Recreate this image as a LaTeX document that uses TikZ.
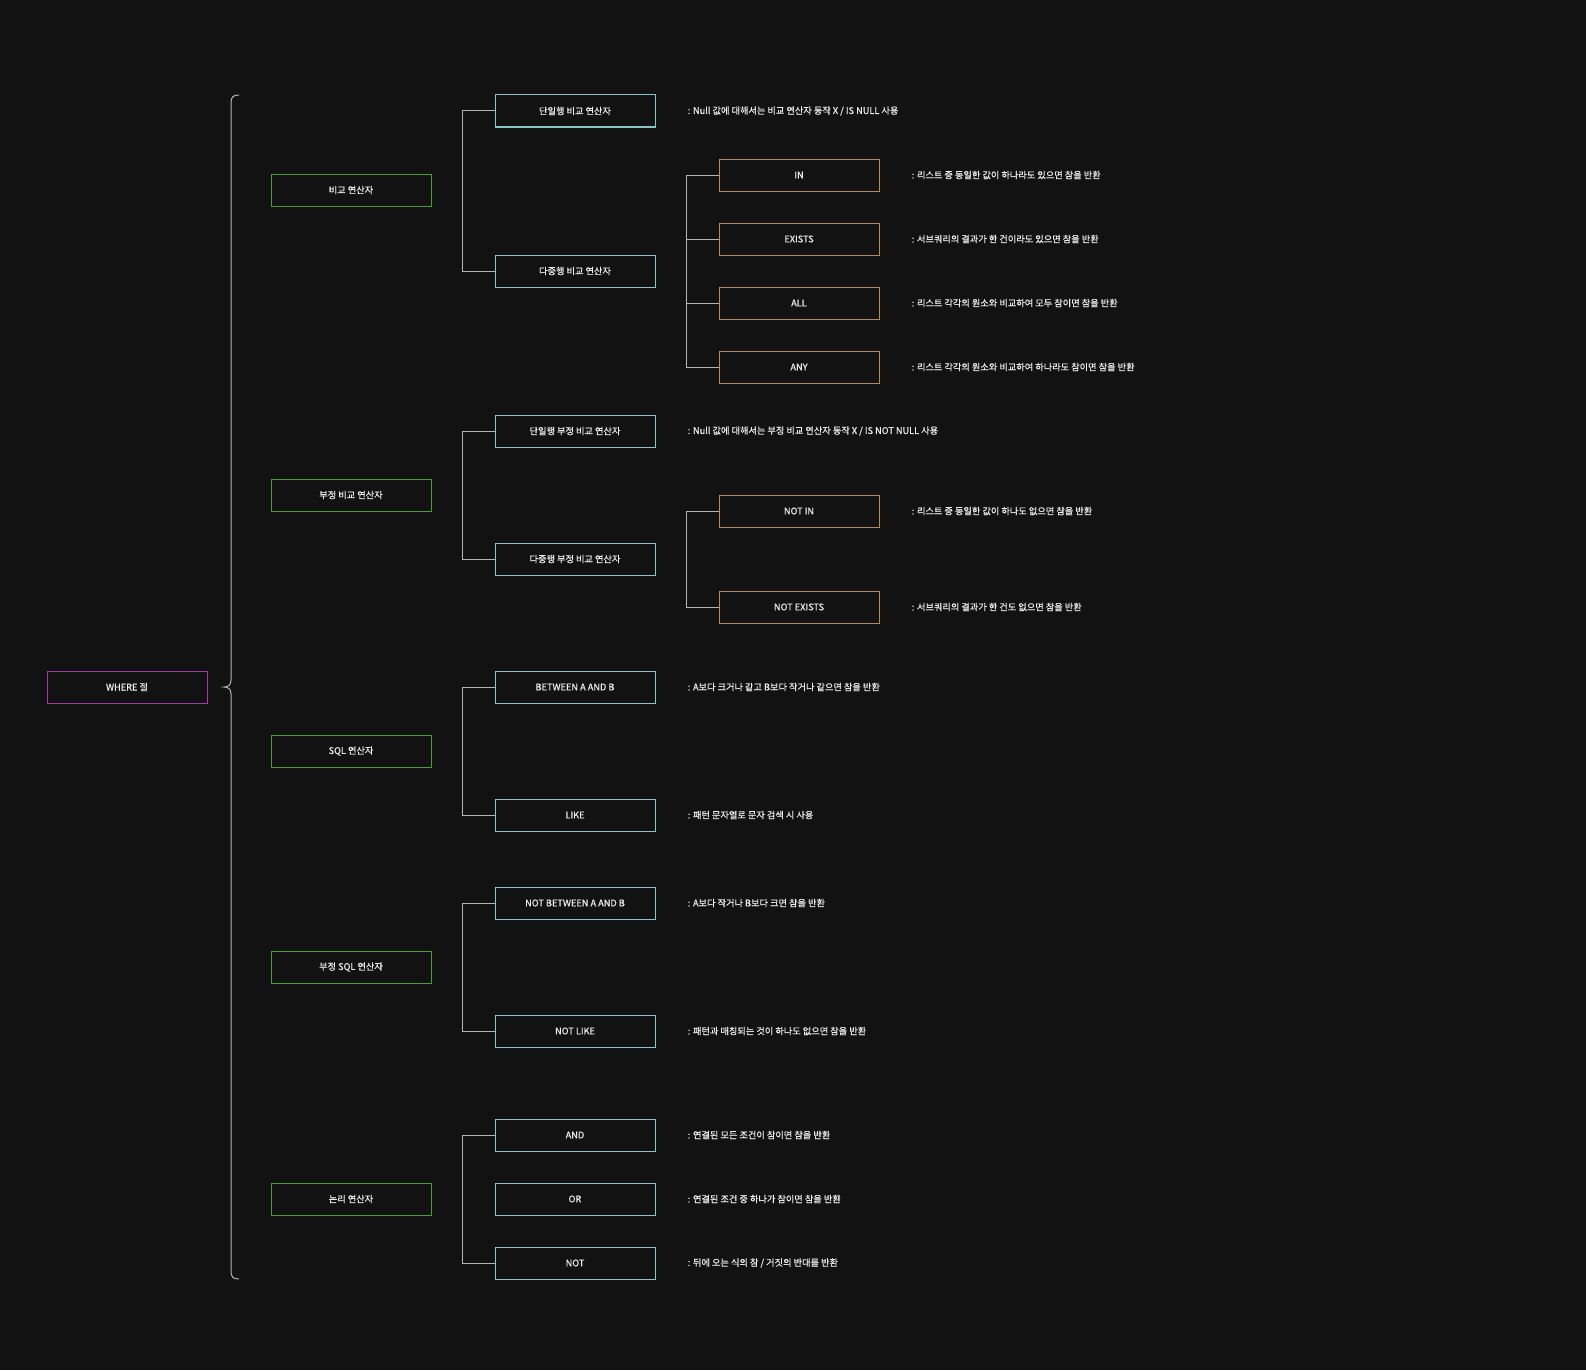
\documentclass[tikz,border=0pt]{standalone}
\usepackage{fontspec}
\setmainfont{Noto Sans CJK KR}[FakeBold=0.6]
\definecolor{bg}{HTML}{121212}
\definecolor{txt}{HTML}{EEEEEE}
\definecolor{cpurple}{HTML}{A33BA8}
\definecolor{cgreen}{HTML}{4E9D34}
\definecolor{cteal}{HTML}{8CC4C4}
\definecolor{corange}{HTML}{B48A60}
\definecolor{cline}{HTML}{B4B4B4}
\begin{document}
\begin{tikzpicture}[x=1pt,y=-1pt,
  box/.style={draw, line width=1pt, minimum width=160pt, minimum height=32pt, inner sep=0pt, text=txt, font=\fontsize{9.2}{10}\selectfont},
  rootbox/.style={box, draw=cpurple},
  lvone/.style={box, draw=cgreen},
  lvtwo/.style={box, draw=cteal},
  lvthree/.style={box, draw=corange},
  desc/.style={anchor=west, inner sep=0pt, text=txt, font=\fontsize{9.2}{10}\selectfont},
  conn/.style={draw=cline, line width=1pt},
]
\fill[bg] (0,0) rectangle (1586,1370);
\useasboundingbox (0,0) rectangle (1586,1370);

% root
\node[rootbox] (root) at (127,687) {WHERE 절};

% brace
\coordinate (bt) at (239,95);
\coordinate (bm) at (224,687);
\coordinate (bb) at (239,1279);
\draw[conn] (bt) .. controls (233,95) and (231,97) .. (231,103) -- (231,680)
  .. controls (231,685) and (228,687) .. (bm)
  .. controls (228,687) and (231,689) .. (231,694) -- (231,1271)
  .. controls (231,1277) and (233,1279) .. (bb);

% level 1
\node[lvone] (cmp)   at (351,190)  {비교 연산자};
\node[lvone] (ncmp)  at (351,495)  {부정 비교 연산자};
\node[lvone] (sql)   at (351,751)  {SQL 연산자};
\node[lvone] (nsql)  at (351,967)  {부정 SQL 연산자};
\node[lvone] (logic) at (351,1199) {논리 연산자};

% level 2
\node[lvtwo] (single)  at (575,111)  {단일행 비교 연산자};
\node[lvtwo] (multi)   at (575,271)  {다중행 비교 연산자};
\node[lvtwo] (nsingle) at (575,431)  {단일행 부정 비교 연산자};
\node[lvtwo] (nmulti)  at (575,559)  {다중행 부정 비교 연산자};
\node[lvtwo] (betw)    at (575,687)  {BETWEEN A AND B};
\node[lvtwo] (like)    at (575,815)  {LIKE};
\node[lvtwo] (nbetw)   at (575,903)  {NOT BETWEEN A AND B};
\node[lvtwo] (nlike)   at (575,1031) {NOT LIKE};
\node[lvtwo] (and)     at (575,1135) {AND};
\node[lvtwo] (or)      at (575,1199) {OR};
\node[lvtwo] (not)     at (575,1263) {NOT};

% level 3
\node[lvthree] (in)   at (799,175) {IN};
\node[lvthree] (ex)   at (799,239) {EXISTS};
\node[lvthree] (all)  at (799,303) {ALL};
\node[lvthree] (any)  at (799,367) {ANY};
\node[lvthree] (nin)  at (799,511) {NOT IN};
\node[lvthree] (nex)  at (799,607) {NOT EXISTS};

% connectors level1 -> level2
\draw[conn] (single.west) -- ++(-32,0) |- (multi.west);
\draw[conn] (nsingle.west) -- ++(-32,0) |- (nmulti.west);
\draw[conn] (betw.west) -- ++(-32,0) |- (like.west);
\draw[conn] (nbetw.west) -- ++(-32,0) |- (nlike.west);
\draw[conn] (and.west) -- ++(-32,0) |- (not.west);

% connectors level2 -> level3
\draw[conn] (in.west) -- ++(-32,0) |- (any.west);
\draw[conn] (ex.west) -- ++(-32,0);
\draw[conn] (all.west) -- ++(-32,0);
\draw[conn] (nin.west) -- ++(-32,0) |- (nex.west);

% descriptions
\node[desc] (d1) at ([xshift=32pt]single.east) {: Null 값에 대해서는 비교 연산자 동작 X / IS NULL 사용};
\node[desc] (d2) at ([xshift=32pt]in.east) {: 리스트 중 동일한 값이 하나라도 있으면 참을 반환};
\node[desc] (d3) at ([xshift=32pt]ex.east) {: 서브쿼리의 결과가 한 건이라도 있으면 참을 반환};
\node[desc] (d4) at ([xshift=32pt]all.east) {: 리스트 각각의 원소와 비교하여 모두 참이면 참을 반환};
\node[desc] (d5) at ([xshift=32pt]any.east) {: 리스트 각각의 원소와 비교하여 하나라도 참이면 참을 반환};
\node[desc] (d6) at ([xshift=32pt]nsingle.east) {: Null 값에 대해서는 부정 비교 연산자 동작 X / IS NOT NULL 사용};
\node[desc] (d7) at ([xshift=32pt]nin.east) {: 리스트 중 동일한 값이 하나도 없으면 참을 반환};
\node[desc] (d8) at ([xshift=32pt]nex.east) {: 서브쿼리의 결과가 한 건도 없으면 참을 반환};
\node[desc] (d9) at ([xshift=32pt]betw.east) {: A보다 크거나 같고 B보다 작거나 같으면 참을 반환};
\node[desc] (d10) at ([xshift=32pt]like.east) {: 패턴 문자열로 문자 검색 시 사용};
\node[desc] (d11) at ([xshift=32pt]nbetw.east) {: A보다 작거나 B보다 크면 참을 반환};
\node[desc] (d12) at ([xshift=32pt]nlike.east) {: 패턴과 매칭되는 것이 하나도 없으면 참을 반환};
\node[desc] (d13) at ([xshift=32pt]and.east) {: 연결된 모든 조건이 참이면 참을 반환};
\node[desc] (d14) at ([xshift=32pt]or.east) {: 연결된 조건 중 하나가 참이면 참을 반환};
\node[desc] (d15) at ([xshift=32pt]not.east) {: 뒤에 오는 식의 참 / 거짓의 반대를 반환};
\end{tikzpicture}
\end{document}
